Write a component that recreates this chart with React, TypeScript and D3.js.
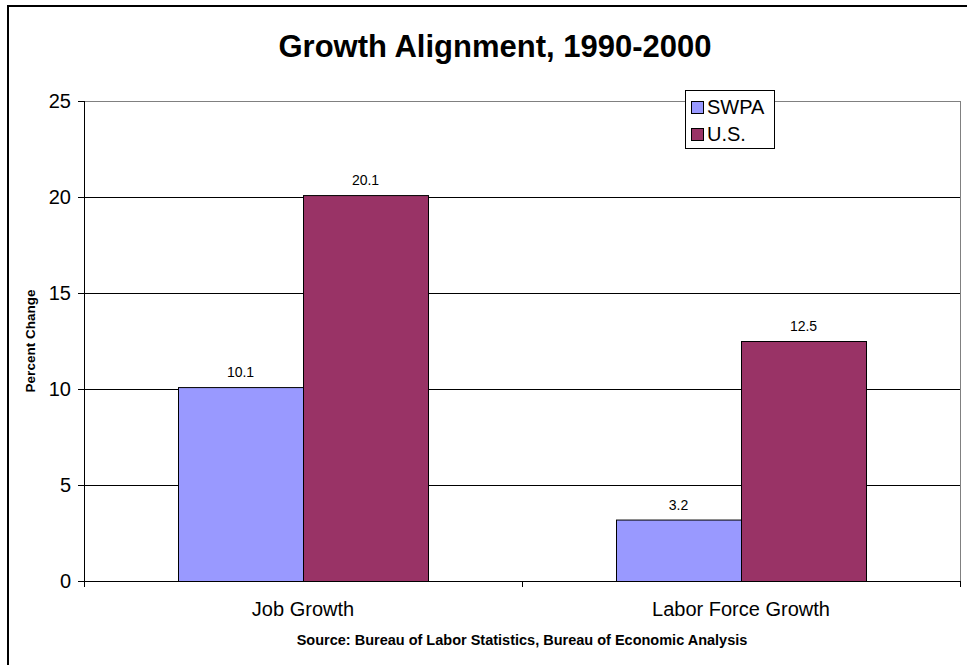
import React from "react";
import * as d3 from "d3";

const categories = ["Job Growth", "Labor Force Growth"];
const seriesNames = ["SWPA", "U.S."];
const swpaValues = [10.1, 3.2];
const usValues = [20.1, 12.5];
const yTicks = [0, 5, 10, 15, 20, 25];
const colors = ["#9999FF", "#993366"];

const W = 967;
const H = 665;
const plot = { left: 84, right: 960, top: 101, bottom: 581 };

export default function App() {
  const x = d3.scaleBand<string>().domain(categories).range([plot.left, plot.right]).paddingInner(0).paddingOuter(0);
  const xs = d3.scaleBand<string>().domain(seriesNames).range([0, x.bandwidth()]).paddingInner(0).paddingOuter(0.752);
  const y = d3.scaleLinear().domain([0, 25]).range([plot.bottom, plot.top]);
  const series = [swpaValues, usValues];
  const font = "Arial, 'Liberation Sans', sans-serif";
  const catEdges = [plot.left, ...categories.map((c) => (x(c) as number) + x.bandwidth())];

  return (
    <svg width={W} height={H} style={{ position: "absolute", left: 0, top: 0, fontFamily: font }}>
      <rect x={0} y={0} width={W} height={H} fill="#fff" />
      <rect x={8} y={6} width={1100} height={800} fill="none" stroke="#000" strokeWidth={2} />
      <text x={495} y={57} textAnchor="middle" fontSize={31} fontWeight="bold">
        Growth Alignment, 1990-2000
      </text>
      {/* gridlines */}
      {yTicks.filter((t) => t > 0 && t < 25).map((t) => (
        <line key={t} x1={plot.left} x2={plot.right} y1={Math.round(y(t)) + 0.5} y2={Math.round(y(t)) + 0.5} stroke="#000" strokeWidth={1} />
      ))}
      {/* plot border top/right */}
      <line x1={plot.left} x2={plot.right} y1={plot.top + 0.5} y2={plot.top + 0.5} stroke="#808080" />
      <line x1={plot.right + 0.5} x2={plot.right + 0.5} y1={plot.top} y2={plot.bottom} stroke="#808080" />
      {/* bars */}
      {categories.map((c, ci) =>
        seriesNames.map((s, si) => {
          const bx = (x(c) as number) + (xs(s) as number);
          const v = series[si][ci];
          return (
            <g key={c + s}>
              <rect x={bx + 0.5} y={y(v) + 0.5} width={xs.bandwidth()} height={plot.bottom - y(v)} fill={colors[si]} stroke="#000" strokeWidth={1} />
              <text x={bx + xs.bandwidth() / 2} y={y(v) - 10} textAnchor="middle" fontSize={14}>
                {v.toFixed(1)}
              </text>
            </g>
          );
        })
      )}
      {/* axes */}
      <line x1={plot.left + 0.5} x2={plot.left + 0.5} y1={plot.top} y2={plot.bottom + 6} stroke="#000" />
      <line x1={plot.left} x2={plot.right + 1} y1={plot.bottom + 0.5} y2={plot.bottom + 0.5} stroke="#000" />
      {yTicks.map((t) => (
        <g key={t}>
          <line x1={plot.left - 6} x2={plot.left} y1={Math.round(y(t)) + 0.5} y2={Math.round(y(t)) + 0.5} stroke="#000" />
          <text x={71} y={y(t) + 7} textAnchor="end" fontSize={20}>
            {t}
          </text>
        </g>
      ))}
      {catEdges.map((e, i) => (
        <line key={i} x1={e + 0.5} x2={e + 0.5} y1={plot.bottom} y2={plot.bottom + 6} stroke="#000" />
      ))}
      {categories.map((c) => (
        <text key={c} x={(x(c) as number) + x.bandwidth() / 2} y={616} textAnchor="middle" fontSize={20}>
          {c}
        </text>
      ))}
      <text transform={`translate(35, ${(plot.top + plot.bottom) / 2}) rotate(-90)`} textAnchor="middle" fontSize={13.5} fontWeight="bold">
        Percent Change
      </text>
      <text x={522} y={645} textAnchor="middle" fontSize={14.5} fontWeight="bold">
        Source: Bureau of Labor Statistics, Bureau of Economic Analysis
      </text>
      {/* legend */}
      <rect x={685.5} y={90.5} width={89} height={58} fill="#fff" stroke="#000" />
      {seriesNames.map((s, i) => (
        <g key={s}>
          <rect x={691.5} y={101.5 + i * 27} width={12} height={12} fill={colors[i]} stroke="#000" />
          <text x={707} y={114 + i * 27} fontSize={20}>
            {s}
          </text>
        </g>
      ))}
    </svg>
  );
}
